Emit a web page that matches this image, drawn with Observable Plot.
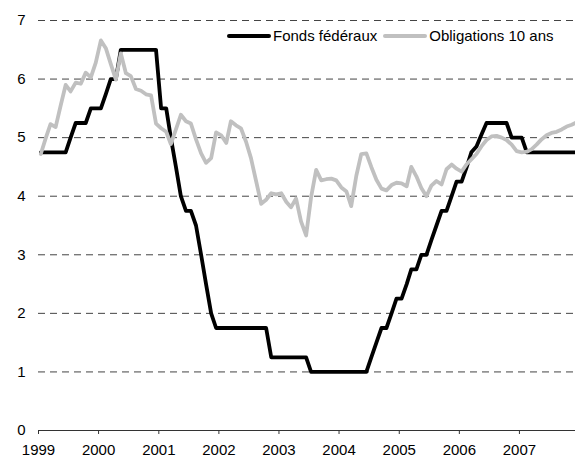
<!DOCTYPE html>
<html><head><meta charset="utf-8">
<script src="https://cdn.jsdelivr.net/npm/d3@7"></script>
<script src="https://cdn.jsdelivr.net/npm/@observablehq/plot@0.6"></script>
<style>
body{margin:0;background:#fff;}
#wrap{position:relative;width:575px;height:457px;font-family:"Liberation Sans",Arial,sans-serif;}
#legend{position:absolute;top:27px;left:227px;display:flex;align-items:center;font-size:15px;color:#000;white-space:nowrap;}
#legend .item{display:flex;align-items:center;margin-right:6px;}
#legend svg{margin-right:2px;}
</style></head><body>
<div id="wrap"><div id="chart"></div><div id="legend"></div></div>
<script>
const seriesNames = ["Fonds fédéraux", "Obligations 10 ans"];
const seriesColors = ["#000000", "#c0c0c0"];
const yearTicks = [1999, 2000, 2001, 2002, 2003, 2004, 2005, 2006, 2007];
const yTicks = [0, 1, 2, 3, 4, 5, 6, 7];
const gridValues = [1, 2, 3, 4, 5, 6, 7];

// monthly values, Jan 1999 .. Dec 2007
const fedFunds = [
  4.75,4.75,4.75,4.75,4.75,4.75,5.0,5.25,5.25,5.25,5.5,5.5,
  5.5,5.75,6.0,6.0,6.5,6.5,6.5,6.5,6.5,6.5,6.5,6.5,
  5.5,5.5,5.0,4.5,4.0,3.75,3.75,3.5,3.0,2.5,2.0,1.75,
  1.75,1.75,1.75,1.75,1.75,1.75,1.75,1.75,1.75,1.75,1.25,1.25,
  1.25,1.25,1.25,1.25,1.25,1.25,1.0,1.0,1.0,1.0,1.0,1.0,
  1.0,1.0,1.0,1.0,1.0,1.0,1.25,1.5,1.75,1.75,2.0,2.25,
  2.25,2.5,2.75,2.75,3.0,3.0,3.25,3.5,3.75,3.75,4.0,4.25,
  4.25,4.5,4.75,4.85,5.05,5.25,5.25,5.25,5.25,5.25,5.0,5.0,
  5.0,4.75,4.75,4.75,4.75,4.75,4.75,4.75,4.75,4.75,4.75,4.75
];
const bonds10y = [
  4.72,5.00,5.23,5.18,5.54,5.90,5.79,5.94,5.92,6.11,6.03,6.28,
  6.66,6.52,6.26,5.99,6.44,6.10,6.05,5.83,5.80,5.74,5.72,5.24,
  5.16,5.10,4.89,5.14,5.39,5.28,5.24,4.97,4.73,4.57,4.65,5.09,
  5.04,4.91,5.28,5.21,5.16,4.93,4.65,4.26,3.87,3.94,4.05,4.03,
  4.05,3.90,3.81,3.96,3.57,3.33,3.98,4.45,4.27,4.29,4.30,4.27,
  4.15,4.08,3.83,4.35,4.72,4.73,4.50,4.28,4.13,4.10,4.19,4.23,
  4.22,4.17,4.50,4.34,4.14,4.00,4.18,4.26,4.20,4.46,4.54,4.47,
  4.42,4.55,4.63,4.72,4.85,4.96,5.02,5.03,5.00,4.96,4.88,4.77,
  4.75,4.76,4.80,4.88,4.97,5.04,5.08,5.10,5.14,5.19,5.22,5.26
];

const monthDate = i => new Date(Date.UTC(1999, i, 15));
const ffRows = fedFunds.map((v, i) => ({date: monthDate(i), value: v}));
const bdRows = bonds10y.map((v, i) => ({date: monthDate(i), value: v}));
const tickDates = yearTicks.map(y => new Date(Date.UTC(y, 0, 1)));

const font = '"Liberation Sans", Arial, sans-serif';
const chart = Plot.plot({
  width: 575,
  height: 457,
  marginLeft: 38,
  marginRight: 0,
  marginTop: 20,
  marginBottom: 27,
  style: {fontFamily: font, fontSize: "15px", color: "#000", background: "#fff"},
  x: {type: "utc", domain: [new Date(Date.UTC(1999,0,1)), new Date(Date.UTC(2008,0,1))], range: [38, 579]},
  y: {domain: [0, 7], range: [430, 20]},
  marks: [
    Plot.ruleY(gridValues, {stroke: "#444", strokeWidth: 1, strokeDasharray: "7,5"}),
    Plot.ruleY([0], {stroke: "#333", strokeWidth: 1}),
    Plot.axisX(tickDates, {tickSize: 4, tickPadding: 10, tickFormat: d => String(d.getUTCFullYear()), fontSize: 15, stroke: "#333", label: null}),
    Plot.axisY(yTicks, {tickSize: 0, tickPadding: 13, tickFormat: d => String(d), fontSize: 15, label: null}),
    Plot.line(ffRows, {x: "date", y: "value", stroke: seriesColors[0], strokeWidth: 3.8, strokeLinejoin: "round"}),
    Plot.line(bdRows, {x: "date", y: "value", stroke: seriesColors[1], strokeWidth: 3.8, strokeLinejoin: "round"})
  ]
});
document.getElementById("chart").appendChild(chart);

const legend = document.getElementById("legend");
seriesNames.forEach((name, k) => {
  const item = document.createElement("div");
  item.className = "item";
  item.innerHTML = `<svg width="44" height="8"><line x1="2" y1="4" x2="42" y2="4" stroke="${seriesColors[k]}" stroke-width="4" stroke-linecap="round"/></svg><span>${name}</span>`;
  legend.appendChild(item);
});
</script>
</body></html>
